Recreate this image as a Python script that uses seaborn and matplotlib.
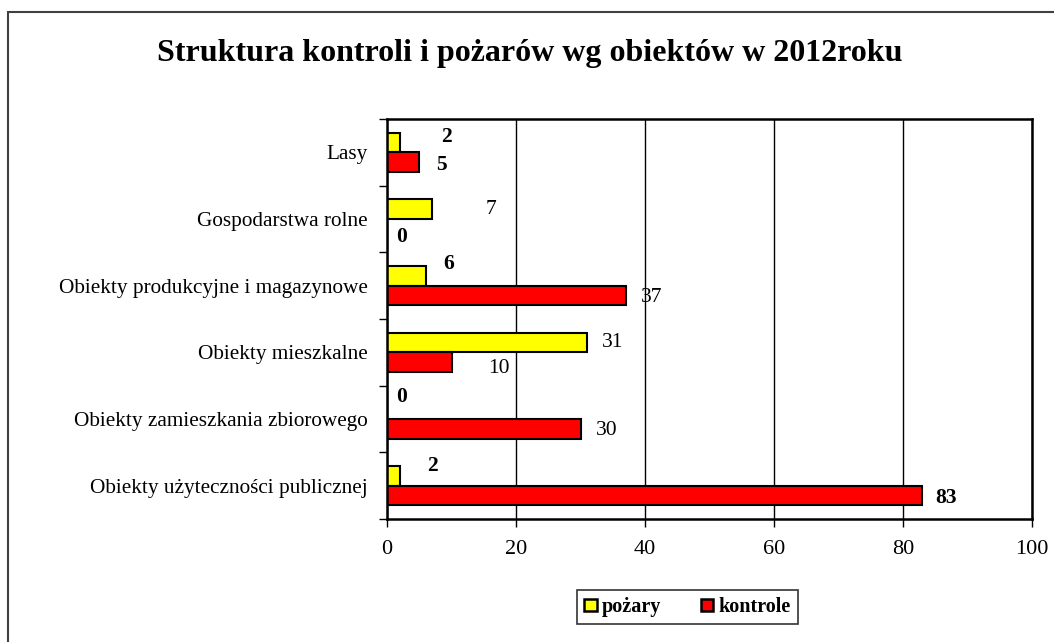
import numpy as np
import pandas as pd
import matplotlib
matplotlib.use("Agg")
import matplotlib.pyplot as plt
import seaborn as sns
from matplotlib.patches import Rectangle

# data (top to bottom, as in the chart)
categories = [
    "Lasy",
    "Gospodarstwa rolne",
    "Obiekty produkcyjne i magazynowe",
    "Obiekty mieszkalne",
    "Obiekty zamieszkania zbiorowego",
    "Obiekty użyteczności publicznej",
]
series = ["pożary", "kontrole"]
pozary = [2, 7, 6, 31, 0, 2]
kontrole = [5, 0, 37, 10, 30, 83]
x_ticks = [0, 20, 40, 60, 80, 100]

df = pd.DataFrame({
    "Obiekt": categories * 2,
    "Seria": [series[0]] * len(categories) + [series[1]] * len(categories),
    "Liczba": pozary + kontrole,
})

sns.set_style("white")
plt.rcParams["font.family"] = ["Liberation Serif", "DejaVu Serif"]
plt.rcParams.update({"text.color": "black", "xtick.color": "black",
                     "ytick.color": "black", "axes.labelcolor": "black"})

W, H = 1054, 642
fig = plt.figure(figsize=(W / 100, H / 100), dpi=100)
ax = fig.add_axes([387 / W, 1 - 519 / H, (1032 - 387) / W, (519 - 119) / H])

palette = {"pożary": "#ffff00", "kontrole": "#ff0000"}
sns.barplot(data=df, y="Obiekt", x="Liczba", hue="Seria", order=categories,
            hue_order=series, palette=palette, orient="h", width=0.59,
            edgecolor="black", linewidth=1.5, saturation=1, ax=ax, legend=True)

ax.set_xlim(0, 100)
ax.set_ylim(len(categories) - 0.5, -0.5)
ax.set_xticks(x_ticks)
ax.set_xticklabels([str(t) for t in x_ticks], fontsize=16)
ax.grid(axis="x", color="black", lw=1)
ax.set_axisbelow(True)
ax.set_xlabel("")
ax.set_ylabel("")

# category labels on minor ticks, tick marks at category boundaries
ax.set_yticks(np.arange(len(categories) + 1) - 0.5)
ax.set_yticklabels([])
ax.set_yticks(np.arange(len(categories)), minor=True)
ax.set_yticklabels(categories, minor=True, fontsize=15.3)
ax.tick_params(axis="y", which="major", direction="out", length=6, width=1, left=True)
ax.tick_params(axis="y", which="minor", length=0, pad=14)
ax.tick_params(axis="x", direction="out", length=6, width=1, bottom=True, pad=9)
for s in ax.spines.values():
    s.set_color("black")
    s.set_linewidth(1.8)

# data labels (offsets in pixels, as placed in the original)
dx_p = [47, 59, 23, 26, 15, 33]
dy_p = [-5, 0, -12, 0, -12, -10]
dx_k = [22, 15, 26, 47, 26, 24]
dy_k = [3, 8, 2, 6, 2, 2]
bold_p = [True, False, True, False, True, True]
bold_k = [True, True, False, False, False, True]
px = 100 / 645  # data units per pixel on x
for i in range(len(categories)):
    ax.text(pozary[i] + dx_p[i] * px, i - 0.148 + dy_p[i] / 66.7, str(pozary[i]),
            ha="center", va="center", fontsize=15.5,
            fontweight="bold" if bold_p[i] else "normal")
    ax.text(kontrole[i] + dx_k[i] * px, i + 0.148 + dy_k[i] / 66.7, str(kontrole[i]),
            ha="center", va="center", fontsize=15.5,
            fontweight="bold" if bold_k[i] else "normal")

leg = ax.legend(loc="center", bbox_to_anchor=(687.5 / W, 1 - 607 / H),
                bbox_transform=fig.transFigure, ncol=2, frameon=True,
                fancybox=False, edgecolor="black", handlelength=0.6,
                handleheight=0.6, handletextpad=0.25, columnspacing=2.0,
                borderpad=0.35, borderaxespad=0, prop={"weight": "bold", "size": 14.5})
leg.get_frame().set_linewidth(1.2)
for t in leg.get_texts():
    t.set_color("black")
for h in leg.legend_handles:
    h.set_edgecolor("black")
    h.set_linewidth(1.8)

fig.suptitle("Struktura kontroli i pożarów wg obiektów w 2012roku",
             x=530 / W, y=1 - 53 / H, va="center", fontsize=23, fontweight="bold")

fig.patches.append(Rectangle((8 / W, -0.05), 1.1, 1 - 12 / H + 0.05,
                             transform=fig.transFigure, fill=False,
                             edgecolor="#404040", lw=1.5))

fig.savefig("out.png", dpi=100)
